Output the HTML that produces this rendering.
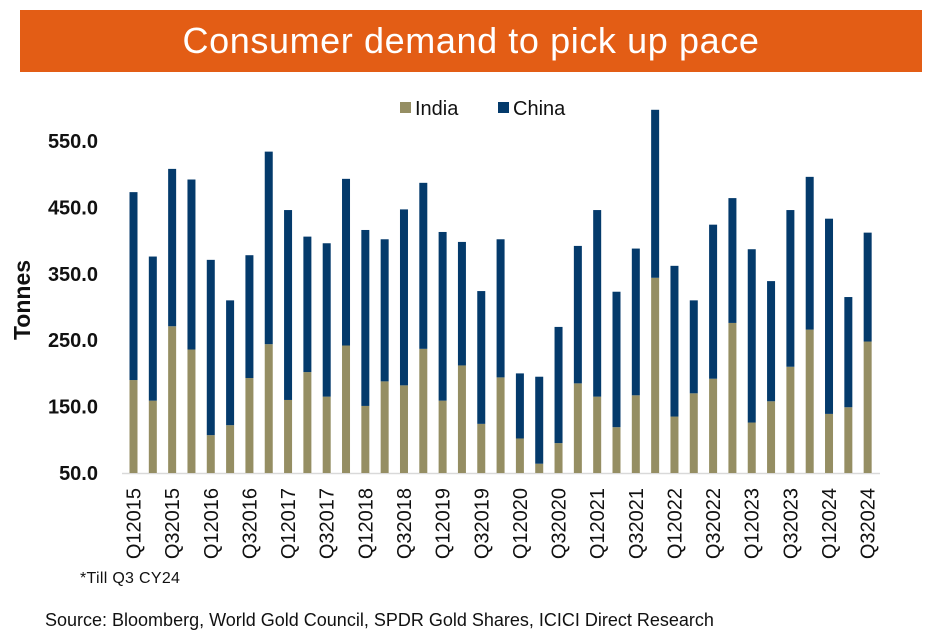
<!DOCTYPE html>
<html><head><meta charset="utf-8"><style>
body{margin:0;width:930px;height:636px;background:#fff;font-family:"Liberation Sans",sans-serif;overflow:hidden;position:relative}
#title{position:absolute;left:20px;top:10px;width:902px;height:62px;background:#E35D15;color:#fff;font-size:36px;letter-spacing:0.6px;line-height:62px;text-align:center}
.note{position:absolute;color:#111}
</style></head><body>
<div id="title">Consumer demand to pick up pace</div>
<svg id="chart" width="930" height="636" style="position:absolute;left:0;top:0"></svg>
<div class="note" style="left:80px;top:570px;font-size:16px;letter-spacing:0.3px">*Till Q3 CY24</div>
<div class="note" style="left:45px;top:610px;font-size:18px">Source: Bloomberg, World Gold Council, SPDR Gold Shares, ICICI Direct Research</div>
<script>
const categories=["Q12015","Q22015","Q32015","Q42015","Q12016","Q22016","Q32016","Q42016","Q12017","Q22017","Q32017","Q42017","Q12018","Q22018","Q32018","Q42018","Q12019","Q22019","Q32019","Q42019","Q12020","Q22020","Q32020","Q42020","Q12021","Q22021","Q32021","Q42021","Q12022","Q22022","Q32022","Q42022","Q12023","Q22023","Q32023","Q42023","Q12024","Q22024","Q32024"];
const india=[190,159,271,236,107,122,193,244,160,202,165,242,151,188,182,237,159,212,124,194,102,64,95,185,165,119,167,344,135,170,192,276,126,158,210,266,139,149,248];
const totals=[473,376,508,492,371,310,378,534,446,406,396,493,416,402,447,487,413,398,324,402,200,195,270,392,446,323,388,597,362,310,424,464,387,339,446,496,433,315,412];
const china=totals.map((t,i)=>t-india[i]);
const yTicks=[50,150,250,350,450,550];
const NS="http://www.w3.org/2000/svg";
const svg=document.getElementById('chart');
const y0=473,k=0.664;
function y(v){return y0-(v-50)*k;}
function x(i){return 133.5+i*19.32;}
function el(t,a){const e=document.createElementNS(NS,t);for(const n in a)e.setAttribute(n,a[n]);svg.appendChild(e);return e;}
const ax=el('line',{x1:122,x2:880,y1:y0+0.5,y2:y0+0.5,stroke:'#d9d9d9','stroke-width':1.5});


yTicks.forEach(v=>{const t=el('text',{x:98,y:y(v)+7,'text-anchor':'end','font-size':20,'font-weight':'bold',fill:'#111'});t.textContent=v.toFixed(1);

});
const yt=el('text',{x:0,y:0,transform:'translate(30,300) rotate(-90)','text-anchor':'middle','font-size':23,'font-weight':'bold',fill:'#111'});yt.textContent='Tonnes';


categories.forEach((c,i)=>{
 const cx=x(i);
 const b1=el('rect',{x:cx-4,y:y(india[i]),width:8,height:y(50)-y(india[i]),fill:'#958E63'});
 
 
 const b2=el('rect',{x:cx-4,y:y(india[i]+china[i]),width:8,height:y(india[i])-y(india[i]+china[i]),fill:'#043A6B'});
 
 
 if(i%2===0){const t=el('text',{x:0,y:0,transform:`translate(${cx+7},488) rotate(-90)`,'text-anchor':'end','font-size':20,fill:'#111'});t.textContent=c;
 
 }
});
[[400,'#958E63','India'],[498,'#043A6B','China']].forEach(([lx,col,lab])=>{
 const r=el('rect',{x:lx,y:102,width:11,height:11,fill:col});
 
 
 const t=el('text',{x:lx+15,y:115,'font-size':20,fill:'#111'});t.textContent=lab;
 
 
});
</script>
</body></html>
